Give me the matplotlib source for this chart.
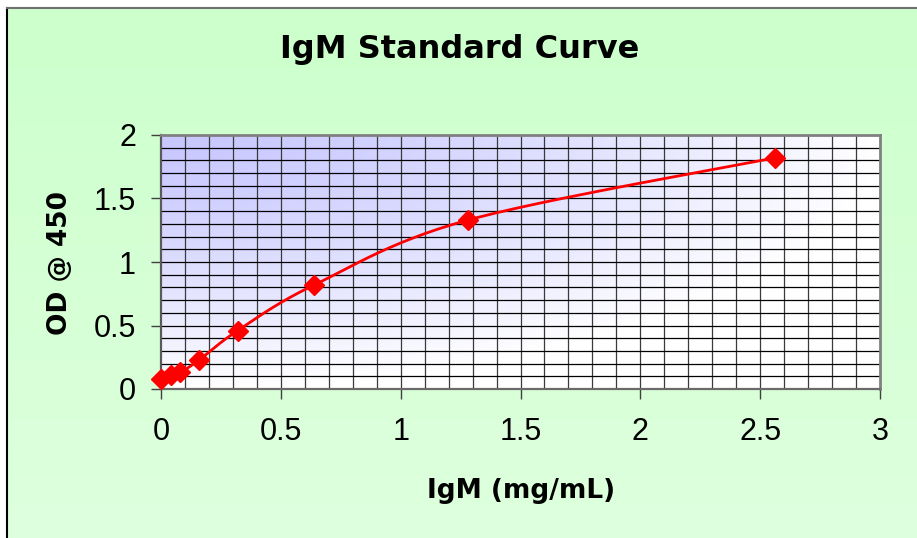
import numpy as np
import matplotlib.pyplot as plt
from matplotlib.lines import Line2D

# IgM standards (two-fold dilutions) and measured OD
igm = [0.0, 0.04, 0.08, 0.16, 0.32, 0.64, 1.28, 2.56]
od = [0.08, 0.11, 0.13, 0.23, 0.46, 0.82, 1.33, 1.82]
xticks = [0, 0.5, 1, 1.5, 2, 2.5, 3]
yticks = [0, 0.5, 1, 1.5, 2]


def smooth(x, y, n=30):
    # Excel-style smoothed line: cubic bezier through each pair of points
    p = np.column_stack([x, y])
    pts = np.vstack([p[0], p, p[-1]])
    out = []
    t = np.linspace(0, 1, n)[:, None]
    for i in range(1, len(pts) - 2):
        p0, p3 = pts[i], pts[i + 1]
        p1 = p0 + (pts[i + 1] - pts[i - 1]) / 6.0
        p2 = p3 - (pts[i + 2] - pts[i]) / 6.0
        seg = ((1 - t)**3 * p0 + 3 * (1 - t)**2 * t * p1
               + 3 * (1 - t) * t**2 * p2 + t**3 * p3)
        out.append(seg if i == 1 else seg[1:])
    out = np.vstack(out)
    return out[:, 0], out[:, 1]


W, H = 917, 538
fig = plt.figure(figsize=(W / 100, H / 100), dpi=100)
fig.patch.set_facecolor('white')

# green chart background with vertical gradient
bg = fig.add_axes([7 / W, 0, 1 - 7 / W, 1 - 8 / H], zorder=-10)
g = np.linspace(0, 1, 256)[:, None, None]
top = np.array([0xCC, 0xFF, 0xCC]) / 255
bot = np.array([0xDE, 0xFF, 0xDE]) / 255
bg.imshow(top * (1 - g) + bot * g, aspect='auto', extent=[0, 1, 0, 1])
bg.set_axis_off()
fig.add_artist(Line2D([7 / W, 7 / W], [0, 1 - 8 / H], color='black', lw=1.5))
fig.add_artist(Line2D([7 / W, 1], [1 - 8 / H, 1 - 8 / H], color='#707070', lw=1.5))

ax = fig.add_axes([161 / W, 1 - 389 / H, 719 / W, 254 / H])

# plot area gradient: blue top-left fading to white
u = np.linspace(0, 1, 300)[None, :]
v = np.linspace(0, 1, 200)[:, None]
tt = (np.clip(np.sqrt(u**2 + v**2), 0, 1) ** 1.4)[:, :, None]
blue = np.array([0xC8, 0xC8, 0xFF]) / 255
ax.imshow(blue * (1 - tt) + 1.0 * tt, aspect='auto', extent=[0, 3, 0, 2],
          zorder=0, origin='upper')
ax.set_xlim(0, 3)
ax.set_ylim(0, 2)

for xv in np.arange(0.1, 3.0, 0.1):
    ax.axvline(xv, color='#3a3a3a', lw=0.9, zorder=1)
for yv in np.arange(0.1, 2.0, 0.1):
    ax.axhline(yv, color='black', lw=0.9, zorder=1)

sx, sy = smooth(igm, od)
ax.plot(sx, sy, color='#FF0000', lw=2, zorder=3, clip_on=False)
ax.plot(igm, od, 'D', color='#FF0000', ms=10, zorder=4, clip_on=False)

for s in ['top', 'right']:
    ax.spines[s].set_color('#808080')
    ax.spines[s].set_linewidth(2)
ax.spines['left'].set_color('#5a5a5a')
ax.spines['left'].set_linewidth(1.6)
ax.spines['bottom'].set_color('#6a6a6a')
ax.spines['bottom'].set_linewidth(1.6)

ax.set_xticks(xticks)
ax.set_xticklabels([f'{t:g}' for t in xticks])
ax.set_yticks(yticks)
ax.set_yticklabels([f'{t:g}' for t in yticks])
ax.tick_params(axis='both', direction='out', length=7, width=1, color='#404040',
               labelsize=22)
ax.tick_params(axis='x', pad=13)
ax.tick_params(axis='y', pad=11)
for lab in ax.get_xticklabels() + ax.get_yticklabels():
    lab.set_family('Liberation Sans')

fig.text(459.7 / W, 1 - 58.3 / H, 'IgM Standard Curve', ha='center',
         va='baseline', fontsize=23, fontweight='bold', family='DejaVu Sans')
fig.text(520.7 / W, 1 - 497.7 / H, 'IgM (mg/mL)', ha='center', va='baseline',
         fontsize=19, fontweight='bold', family='DejaVu Sans')
fig.text(60 / W, 1 - 263 / H, 'OD @ 450', ha='center', va='center', rotation=90,
         fontsize=19, fontweight='bold', family='DejaVu Sans')

fig.savefig('out.png', dpi=100)
